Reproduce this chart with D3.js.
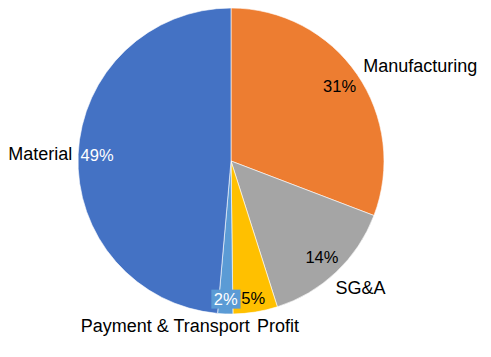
<!DOCTYPE html>
<html>
<head>
<meta charset="utf-8">
<script src="https://cdn.jsdelivr.net/npm/d3@7/dist/d3.min.js"></script>
<style>
  html, body { margin: 0; padding: 0; background: #ffffff; }
  svg { display: block; }
</style>
</head>
<body>
<svg id="chart" width="491" height="357"></svg>
<script>
// ---- data ----
const categories = ["Manufacturing", "SG&A", "Profit", "Payment & Transport", "Material"];
const values = [30.8, 14.3, 4.7, 1.6, 48.6];
const percentLabels = ["31%", "14%", "5%", "2%", "49%"];

// ---- styling ----
const colors = ["#ED7D31", "#A5A5A5", "#FFC000", "#5B9BD5", "#4472C4"];
const pctColors = ["#000000", "#000000", "#000000", "#ffffff", "#ffffff"];
const pctBoxed = [false, false, false, true, false];
// name label layout: anchor and small nudges (px) applied after angle-based placement
const nameAnchor = ["start", "start", "start", "end", "end"];
const nameNudge = [[-2, -3], [-7.5, 8], [0, 4], [25, 2], [4, 0]];
const pctRadiusFactor = [0.862, 0.865, 0.91, 0.905, 0.876];

const W = 491, H = 357;
const cx = 231, cy = 161, r = 153;
const font = "'Liberation Sans', Arial, sans-serif";

const svg = d3.select("#chart");
const g = svg.append("g").attr("transform", `translate(${cx},${cy})`);

const data = categories.map((c, i) => ({ name: c, value: values[i], pct: percentLabels[i], i }));

const pie = d3.pie().sort(null).value(d => d.value).startAngle(0).endAngle(2 * Math.PI);
const arcs = pie(data);
const arc = d3.arc().innerRadius(0).outerRadius(r);

g.selectAll("path.slice")
  .data(arcs)
  .enter().append("path")
  .attr("class", "slice")
  .attr("d", arc)
  .attr("fill", d => colors[d.data.i])
  .attr("stroke", "#ffffff")
  .attr("stroke-width", 0.6);

function polar(angle, rad) {
  return [rad * Math.sin(angle), -rad * Math.cos(angle)];
}

// percent labels
arcs.forEach(d => {
  const i = d.data.i;
  const mid = (d.startAngle + d.endAngle) / 2;
  const [x, y] = polar(mid, r * pctRadiusFactor[i]);
  const grp = g.append("g");
  const t = grp.append("text")
    .attr("x", x).attr("y", y)
    .attr("dy", "0.35em")
    .attr("text-anchor", "middle")
    .attr("font-family", font)
    .attr("font-size", 16.5)
    .attr("fill", pctColors[i])
    .text(d.data.pct);
  if (pctBoxed[i]) {
    const bb = t.node().getBBox();
    grp.insert("rect", "text")
      .attr("x", bb.x - 2.5).attr("y", bb.y - 0.5)
      .attr("width", bb.width + 5).attr("height", bb.height + 1)
      .attr("fill", colors[i]);
  }
});

// category name labels
arcs.forEach(d => {
  const i = d.data.i;
  const mid = (d.startAngle + d.endAngle) / 2;
  const [x, y] = polar(mid, r + 10);
  g.append("text")
    .attr("x", x + nameNudge[i][0]).attr("y", y + nameNudge[i][1])
    .attr("dy", "0.35em")
    .attr("text-anchor", nameAnchor[i])
    .attr("font-family", font)
    .attr("font-size", 18)
    .attr("fill", "#000000")
    .text(d.data.name);
});
</script>
</body>
</html>
